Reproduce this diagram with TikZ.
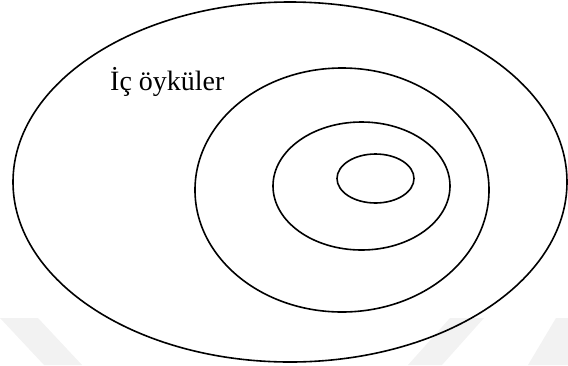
\documentclass[tikz,border=0pt]{standalone}
\usepackage{fontspec}
\setmainfont{Liberation Serif}
\begin{document}
\begin{tikzpicture}[x=1pt,y=-1pt,
  ring/.style={draw=black,line width=1.6pt},
  wm/.style={fill=black!5,draw=none}]
\useasboundingbox (0,0) rectangle (568,365);
% faint watermark shapes
\fill[wm] (0,318) -- (38,318) -- (82,365) -- (44,365) -- cycle;
\fill[wm] (484,318) -- (450,318) -- (408,365) -- (442,365) -- cycle;
\fill[wm] (568,318) -- (556,318) -- (528,365) -- (568,365) -- cycle;
% ellipses
\draw[ring] (290,182) coordinate (c1) ellipse [x radius=277, y radius=180];
\draw[ring] (342,190) coordinate (c2) ellipse [x radius=147, y radius=122];
\draw[ring] (361.5,186) coordinate (c3) ellipse [x radius=88.5, y radius=64];
\draw[ring] (375.5,178.5) coordinate (c4) ellipse [x radius=38.5, y radius=24.5];
\node[anchor=base west,inner sep=0pt,font=\fontsize{28}{34}\selectfont] (lbl) at (110,90) {İç öyküler};
\end{tikzpicture}
\end{document}
